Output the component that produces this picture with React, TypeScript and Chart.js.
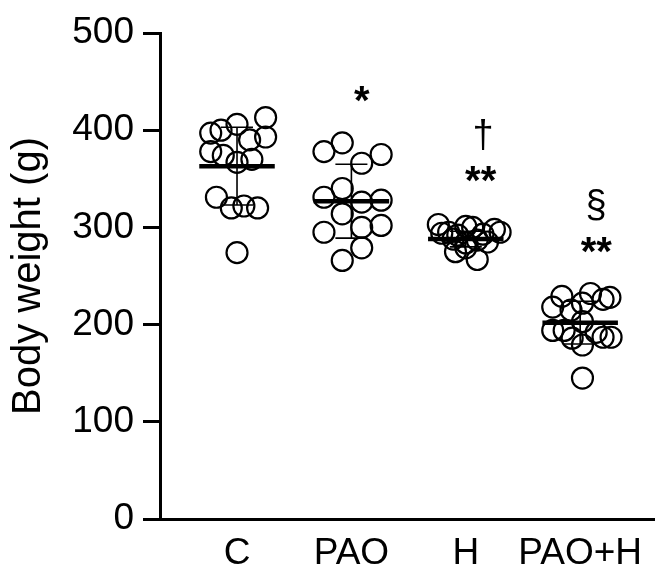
import React, { useEffect, useRef } from "react";
import { Chart, registerables } from "chart.js";
Chart.register(...registerables);

const categories = ["C", "PAO", "H", "PAO+H"];
const yTicks = [0, 100, 200, 300, 400, 500];

// body weight values (g) per group, with horizontal spread of each dot (category units)
const cValues = [413, 397, 400, 406, 393, 390, 378, 374, 367, 370, 331, 320, 322, 320, 274];
const cSpread = [0.25, -0.23, -0.14, 0, 0.25, 0.11, -0.23, -0.12, 0, 0.13, -0.18, -0.05, 0.06, 0.18, 0];

const paoValues = [378, 387, 366, 375, 340, 331, 326, 328, 314, 295, 300, 302, 279, 266];
const paoSpread = [-0.24, -0.08, 0.09, 0.26, -0.08, -0.24, 0.09, 0.26, -0.08, -0.24, 0.09, 0.26, 0.09, -0.08];

const hValues = [303, 295, 301, 300, 298, 295, 294, 292, 293, 288, 287, 284, 275, 267, 279, 285];
const hSpread = [-0.24, -0.15, 0, 0.06, 0.25, 0.3, -0.21, -0.07, 0.15, -0.11, 0.1, 0, -0.09, 0.1, 0, 0.19];

const paohValues = [229, 232, 228, 226, 222, 218, 215, 203, 194, 194, 192, 187, 187, 186, 179, 145];
const paohSpread = [-0.16, 0.09, 0.26, 0.2, 0.02, -0.24, -0.08, 0.02, -0.24, -0.14, 0.14, 0.2, 0.27, -0.07, 0.02, 0.02];

const groupMeans = [363, 327, 288, 202];
const groupSDs = [40, 38, 8, 22];

const annotationText = ["*", "\u2020", "**", "\u00a7", "**"];
const annotationGroup = [1, 2, 2, 3, 3];
const annotationShift = [0.09, 0.15, 0.13, 0.14, 0.14];
const annotationValue = [428, 394, 346, 321, 273];

const groupValues = [cValues, paoValues, hValues, paohValues];
const groupSpread = [cSpread, paoSpread, hSpread, paohSpread];

const FONT = "'Liberation Sans', Arial, Helvetica, sans-serif";

const meanPlugin = {
  id: "meanSd",
  afterDatasetsDraw(chart: any) {
    const { ctx, scales } = chart;
    const x = scales.x;
    const y = scales.y;
    ctx.save();
    ctx.strokeStyle = "#000";
    groupMeans.forEach((m, i) => {
      const xc = x.getPixelForValue(i + 1);
      const half = x.getPixelForValue(i + 1 + 0.33) - xc;
      const cap = x.getPixelForValue(i + 1 + 0.14) - xc;
      const ym = y.getPixelForValue(m);
      const yt = y.getPixelForValue(m + groupSDs[i]);
      const yb = y.getPixelForValue(m - groupSDs[i]);
      ctx.lineWidth = 1.6;
      ctx.beginPath();
      ctx.moveTo(xc, yt);
      ctx.lineTo(xc, yb);
      ctx.moveTo(xc - cap, yt);
      ctx.lineTo(xc + cap, yt);
      ctx.moveTo(xc - cap, yb);
      ctx.lineTo(xc + cap, yb);
      ctx.stroke();
      ctx.lineWidth = 4.5;
      ctx.beginPath();
      ctx.moveTo(xc - half, ym);
      ctx.lineTo(xc + half, ym);
      ctx.stroke();
    });
    ctx.fillStyle = "#000";
    ctx.textAlign = "center";
    ctx.textBaseline = "middle";
    annotationText.forEach((t, k) => {
      const xc = x.getPixelForValue(annotationGroup[k] + 1 + annotationShift[k]);
      const yc = y.getPixelForValue(annotationValue[k]);
      ctx.font = t.startsWith("*") ? `bold 40px ${FONT}` : `38px ${FONT}`;
      ctx.fillText(t, xc, yc);
    });
    ctx.restore();
  },
};

export default function App() {
  const ref = useRef<HTMLCanvasElement>(null);
  useEffect(() => {
    if (!ref.current) return;
    const chart = new Chart(ref.current, {
      type: "scatter",
      data: {
        datasets: groupValues.map((vals, i) => ({
          label: categories[i],
          data: vals.map((v, j) => ({ x: i + 1 + groupSpread[i][j], y: v })),
          pointRadius: 10.5,
          pointHoverRadius: 10.5,
          pointBorderWidth: 2.2,
          pointBorderColor: "#000",
          pointBackgroundColor: "rgba(0,0,0,0)",
          showLine: false,
        })),
      },
      options: {
        animation: false,
        responsive: false,
        events: [],
        layout: { padding: { top: 33, right: 0, left: 0, bottom: 0 } },
        plugins: { legend: { display: false }, tooltip: { enabled: false } },
        scales: {
          x: {
            type: "linear",
            min: 0.3267,
            max: 4.648,
            afterBuildTicks: (s: any) => {
              s.ticks = categories.map((_, i) => ({ value: i + 1 }));
            },
            afterFit: (s: any) => {
              s.height = 45;
            },
            ticks: {
              autoSkip: false,
              maxRotation: 0,
              padding: 5,
              color: "#000",
              font: { family: FONT, size: 37 },
              callback: (v: any) => categories[Math.round(Number(v)) - 1] ?? "",
            },
            grid: { display: false },
            border: { display: true, color: "#000", width: 3 },
          },
          y: {
            min: 0,
            max: 500,
            afterBuildTicks: (s: any) => {
              s.ticks = yTicks.map((v) => ({ value: v }));
            },
            afterFit: (s: any) => {
              s.width = 160;
            },
            ticks: {
              padding: 9,
              color: "#000",
              font: { family: FONT, size: 37 },
            },
            grid: {
              display: true,
              drawOnChartArea: false,
              drawTicks: true,
              tickLength: 17,
              lineWidth: 3,
              color: "#000",
            },
            border: { display: true, color: "#000", width: 3 },
            title: {
              display: true,
              text: "Body weight (g)",
              color: "#000",
              font: { family: FONT, size: 40 },
              padding: { top: 5, bottom: 0 },
            },
          },
        },
      },
      plugins: [meanPlugin],
    });
    return () => chart.destroy();
  }, []);
  return (
    <div style={{ position: "absolute", left: 0, top: 0, width: 667, height: 564, background: "#fff" }}>
      <canvas ref={ref} width={667} height={564} style={{ width: 667, height: 564 }} />
    </div>
  );
}
